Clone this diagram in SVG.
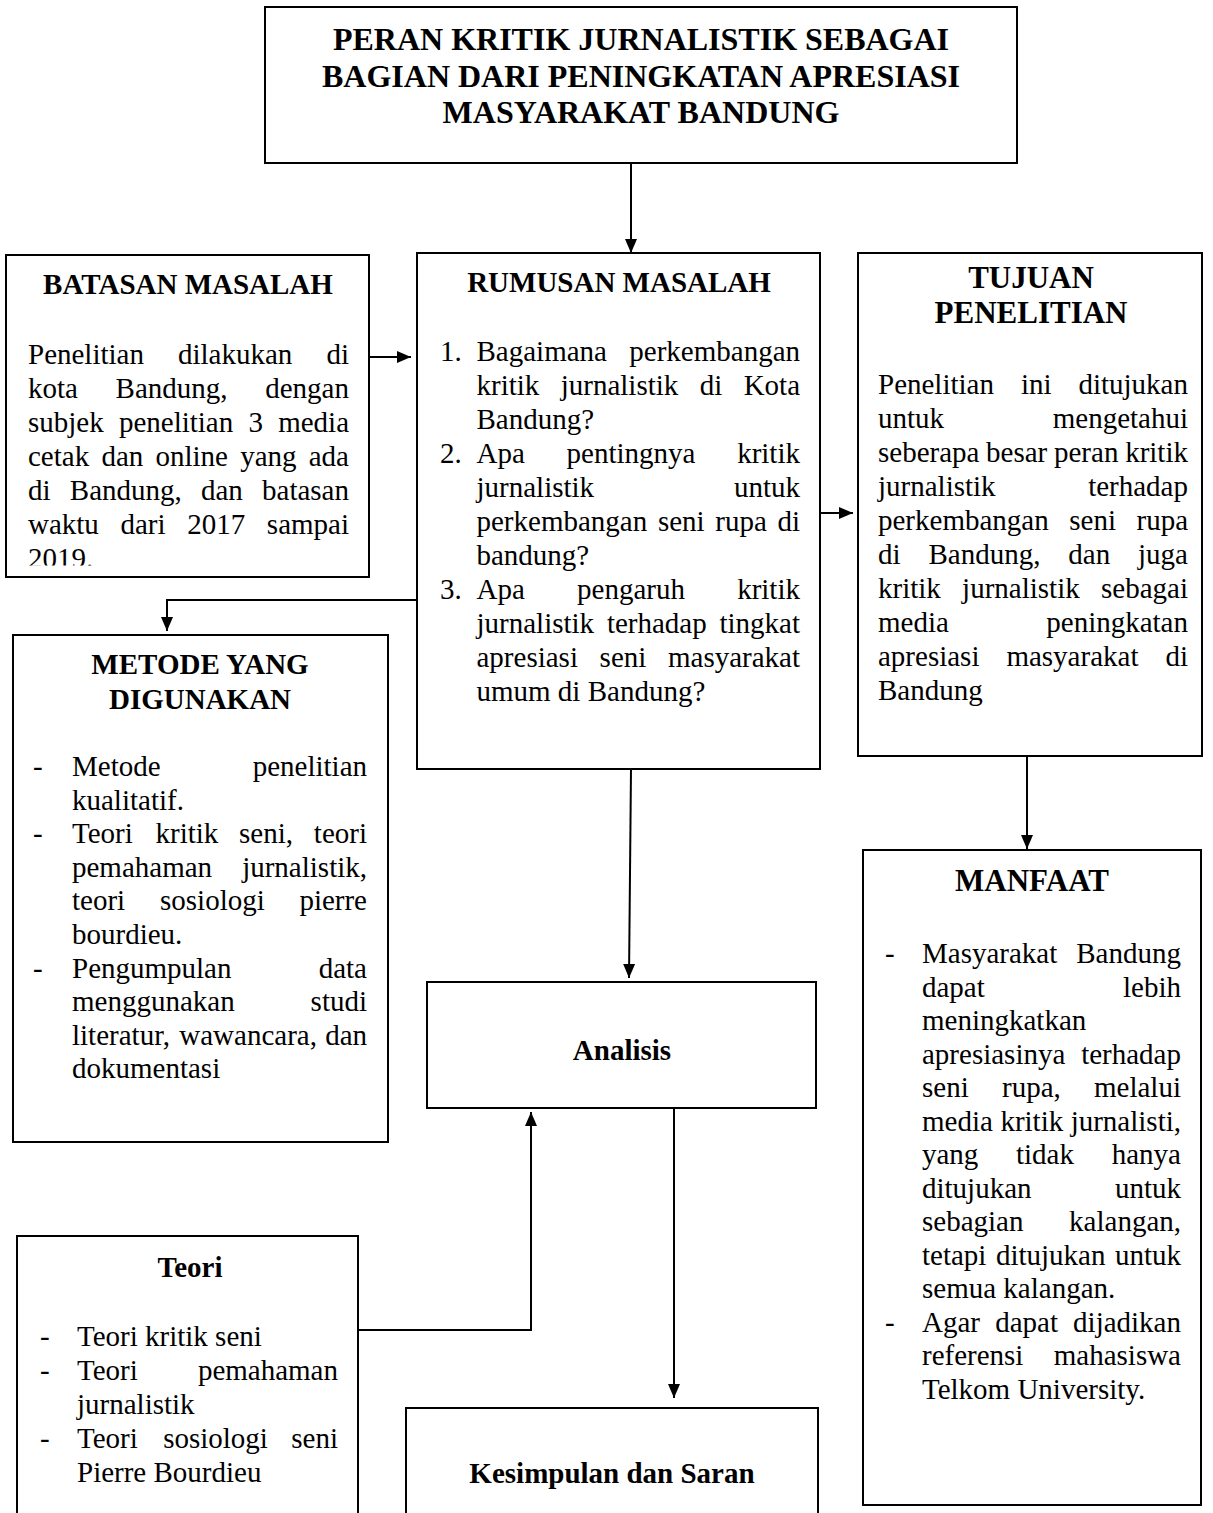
<svg xmlns="http://www.w3.org/2000/svg" width="1213" height="1513" viewBox="0 0 1213 1513">
<style>
.box{fill:#fff;stroke:#000;stroke-width:2}
text{font-family:"Liberation Serif","Times New Roman",serif;font-size:29px;fill:#000}
.h{font-weight:bold;text-anchor:middle}
.ttl{font-size:32px}
.h31{font-size:31px}
.e{text-anchor:end}
.conn{stroke:#000;stroke-width:2;fill:none}
</style>
<defs>
<marker id="ah" markerWidth="14" markerHeight="14" refX="14" refY="7" orient="auto" markerUnits="userSpaceOnUse"><path d="M0,1 L14,7 L0,13 z" fill="#000"/></marker>
<clipPath id="clipB"><rect x="6" y="255" width="363" height="310.5"/></clipPath>
</defs>
<rect width="1213" height="1513" fill="#fff"/>

<g id="title">
<rect class="box" x="265" y="7" width="752" height="156"/>
<text class="h ttl" x="641" y="50">PERAN KRITIK JURNALISTIK SEBAGAI</text>
<text class="h ttl" x="641" y="87">BAGIAN DARI PENINGKATAN APRESIASI</text>
<text class="h ttl" x="641" y="123">MASYARAKAT BANDUNG</text>
</g>

<g id="batasan">
<rect class="box" x="6" y="255" width="363" height="322"/>
<text class="h" x="188" y="294">BATASAN MASALAH</text>
<g clip-path="url(#clipB)">
<text y="364"><tspan x="28">Penelitian</tspan><tspan x="178">dilakukan</tspan></text><text class="e" x="349" y="364">di</text>
<text y="398"><tspan x="28">kota</tspan><tspan x="115.6">Bandung,</tspan></text><text class="e" x="349" y="398">dengan</text>
<text y="432"><tspan x="28">subjek</tspan><tspan x="118.9">penelitian</tspan><tspan x="248.4">3</tspan></text><text class="e" x="349" y="432">media</text>
<text y="466"><tspan x="28">cetak</tspan><tspan x="101.4">dan</tspan><tspan x="155.5">online</tspan><tspan x="240.2">yang</tspan></text><text class="e" x="349" y="466">ada</text>
<text y="500"><tspan x="28">di</tspan><tspan x="69.8">Bandung,</tspan><tspan x="201">dan</tspan></text><text class="e" x="349" y="500">batasan</text>
<text y="534"><tspan x="28">waktu</tspan><tspan x="120.5">dari</tspan><tspan x="187.2">2017</tspan></text><text class="e" x="349" y="534">sampai</text>
<text x="28" y="568">2019.</text>
</g>
</g>

<g id="rumusan">
<rect class="box" x="417" y="253" width="403" height="516"/>
<text class="h" x="619" y="292">RUMUSAN MASALAH</text>
<text x="440" y="361">1.</text>
<text y="361"><tspan x="476.5">Bagaimana</tspan></text><text class="e" x="800" y="361">perkembangan</text>
<text y="395"><tspan x="476.5">kritik</tspan><tspan x="560.7">jurnalistik</tspan><tspan x="699.7">di</tspan></text><text class="e" x="800" y="395">Kota</text>
<text x="476.5" y="429">Bandung?</text>
<text x="440" y="463">2.</text>
<text y="463"><tspan x="476.5">Apa</tspan><tspan x="566.6">pentingnya</tspan></text><text class="e" x="800" y="463">kritik</text>
<text x="476.5" y="497">jurnalistik</text><text class="e" x="800" y="497">untuk</text>
<text y="531"><tspan x="476.5">perkembangan</tspan><tspan x="657.9">seni</tspan><tspan x="715.3">rupa</tspan></text><text class="e" x="800" y="531">di</text>
<text x="476.5" y="565">bandung?</text>
<text x="440" y="599">3.</text>
<text y="599"><tspan x="476.5">Apa</tspan><tspan x="577.1">pengaruh</tspan></text><text class="e" x="800" y="599">kritik</text>
<text y="633"><tspan x="476.5">jurnalistik</tspan><tspan x="606.9">terhadap</tspan></text><text class="e" x="800" y="633">tingkat</text>
<text y="667"><tspan x="476.5">apresiasi</tspan><tspan x="599.6">seni</tspan></text><text class="e" x="800" y="667">masyarakat</text>
<text x="476.5" y="701">umum di Bandung?</text>
</g>

<g id="tujuan">
<rect class="box" x="858" y="253" width="344" height="503"/>
<text class="h h31" x="1031" y="288">TUJUAN</text>
<text class="h h31" x="1031" y="323">PENELITIAN</text>
<text y="394"><tspan x="878">Penelitian</tspan><tspan x="1020.9">ini</tspan></text><text class="e" x="1188" y="394">ditujukan</text>
<text x="878" y="428">untuk</text><text class="e" x="1188" y="428">mengetahui</text>
<text y="462"><tspan x="878">seberapa</tspan><tspan x="986.1">besar</tspan><tspan x="1054">peran</tspan></text><text class="e" x="1188" y="462">kritik</text>
<text x="878" y="496">jurnalistik</text><text class="e" x="1188" y="496">terhadap</text>
<text y="530"><tspan x="878">perkembangan</tspan><tspan x="1069.3">seni</tspan></text><text class="e" x="1188" y="530">rupa</text>
<text y="564"><tspan x="878">di</tspan><tspan x="928.5">Bandung,</tspan><tspan x="1068.3">dan</tspan></text><text class="e" x="1188" y="564">juga</text>
<text y="598"><tspan x="878">kritik</tspan><tspan x="962.1">jurnalistik</tspan></text><text class="e" x="1188" y="598">sebagai</text>
<text x="878" y="632">media</text><text class="e" x="1188" y="632">peningkatan</text>
<text y="666"><tspan x="878">apresiasi</tspan><tspan x="1006.4">masyarakat</tspan></text><text class="e" x="1188" y="666">di</text>
<text x="878" y="700">Bandung</text>
</g>

<g id="metode">
<rect class="box" x="13" y="635" width="375" height="507"/>
<text class="h" x="200" y="674">METODE YANG</text>
<text class="h" x="200" y="709">DIGUNAKAN</text>
<text x="33" y="776">-</text>
<text x="72" y="776">Metode</text><text class="e" x="367" y="776">penelitian</text>
<text x="72" y="809.6">kualitatif.</text>
<text x="33" y="843.2">-</text>
<text y="843.2"><tspan x="72">Teori</tspan><tspan x="155.5">kritik</tspan><tspan x="239">seni,</tspan></text><text class="e" x="367" y="843.2">teori</text>
<text x="72" y="876.8">pemahaman</text><text class="e" x="367" y="876.8">jurnalistik,</text>
<text y="910.4"><tspan x="72">teori</tspan><tspan x="160">sosiologi</tspan></text><text class="e" x="367" y="910.4">pierre</text>
<text x="72" y="944">bourdieu.</text>
<text x="33" y="977.6">-</text>
<text x="72" y="977.6">Pengumpulan</text><text class="e" x="367" y="977.6">data</text>
<text x="72" y="1011.2">menggunakan</text><text class="e" x="367" y="1011.2">studi</text>
<text y="1044.8"><tspan x="72">literatur,</tspan><tspan x="179.3">wawancara,</tspan></text><text class="e" x="367" y="1044.8">dan</text>
<text x="72" y="1078.4">dokumentasi</text>
</g>

<g id="analisis">
<rect class="box" x="427" y="982" width="389" height="126"/>
<text class="h" x="622" y="1060">Analisis</text>
</g>

<g id="manfaat">
<rect class="box" x="863" y="850" width="338" height="655"/>
<text class="h h31" x="1032" y="891">MANFAAT</text>
<text x="885" y="963">-</text>
<text x="922" y="963">Masyarakat</text><text class="e" x="1181" y="963">Bandung</text>
<text x="922" y="996.5">dapat</text><text class="e" x="1181" y="996.5">lebih</text>
<text x="922" y="1030">meningkatkan</text>
<text x="922" y="1063.5">apresiasinya</text><text class="e" x="1181" y="1063.5">terhadap</text>
<text y="1097"><tspan x="922">seni</tspan><tspan x="1002">rupa,</tspan></text><text class="e" x="1181" y="1097">melalui</text>
<text y="1130.5"><tspan x="922">media</tspan><tspan x="1000.4">kritik</tspan></text><text class="e" x="1181" y="1130.5">jurnalisti,</text>
<text y="1164"><tspan x="922">yang</tspan><tspan x="1016">tidak</tspan></text><text class="e" x="1181" y="1164">hanya</text>
<text x="922" y="1197.5">ditujukan</text><text class="e" x="1181" y="1197.5">untuk</text>
<text x="922" y="1231">sebagian</text><text class="e" x="1181" y="1231">kalangan,</text>
<text y="1264.5"><tspan x="922">tetapi</tspan><tspan x="995.9">ditujukan</tspan></text><text class="e" x="1181" y="1264.5">untuk</text>
<text x="922" y="1298">semua kalangan.</text>
<text x="885" y="1331.5">-</text>
<text y="1331.5"><tspan x="922">Agar</tspan><tspan x="995.2">dapat</tspan></text><text class="e" x="1181" y="1331.5">dijadikan</text>
<text x="922" y="1365">referensi</text><text class="e" x="1181" y="1365">mahasiswa</text>
<text x="922" y="1398.5">Telkom University.</text>
</g>

<g id="teori">
<rect class="box" x="17" y="1236" width="341" height="300"/>
<text class="h" x="190" y="1277">Teori</text>
<text x="40" y="1346">-</text>
<text x="77" y="1346">Teori kritik seni</text>
<text x="40" y="1380">-</text>
<text x="77" y="1380">Teori</text><text class="e" x="338" y="1380">pemahaman</text>
<text x="77" y="1414">jurnalistik</text>
<text x="40" y="1448">-</text>
<text y="1448"><tspan x="77">Teori</tspan><tspan x="163.2">sosiologi</tspan></text><text class="e" x="338" y="1448">seni</text>
<text x="77" y="1482">Pierre Bourdieu</text>
</g>

<g id="kesimpulan">
<rect class="box" x="406" y="1408" width="412" height="130"/>
<text class="h" x="612" y="1483">Kesimpulan dan Saran</text>
</g>

<g id="connectors">
<line class="conn" x1="631" y1="163" x2="631" y2="253" marker-end="url(#ah)"/>
<line class="conn" x1="369" y1="357" x2="411" y2="357" marker-end="url(#ah)"/>
<line class="conn" x1="820" y1="513" x2="853" y2="513" marker-end="url(#ah)"/>
<polyline class="conn" points="417,600 167,600 167,631" marker-end="url(#ah)"/>
<line class="conn" x1="631" y1="769" x2="629" y2="978" marker-end="url(#ah)"/>
<line class="conn" x1="1027" y1="756" x2="1027" y2="849" marker-end="url(#ah)"/>
<line class="conn" x1="674" y1="1108" x2="674" y2="1398" marker-end="url(#ah)"/>
<polyline class="conn" points="358,1330 531,1330 531,1112" marker-end="url(#ah)"/>
</g>
</svg>
